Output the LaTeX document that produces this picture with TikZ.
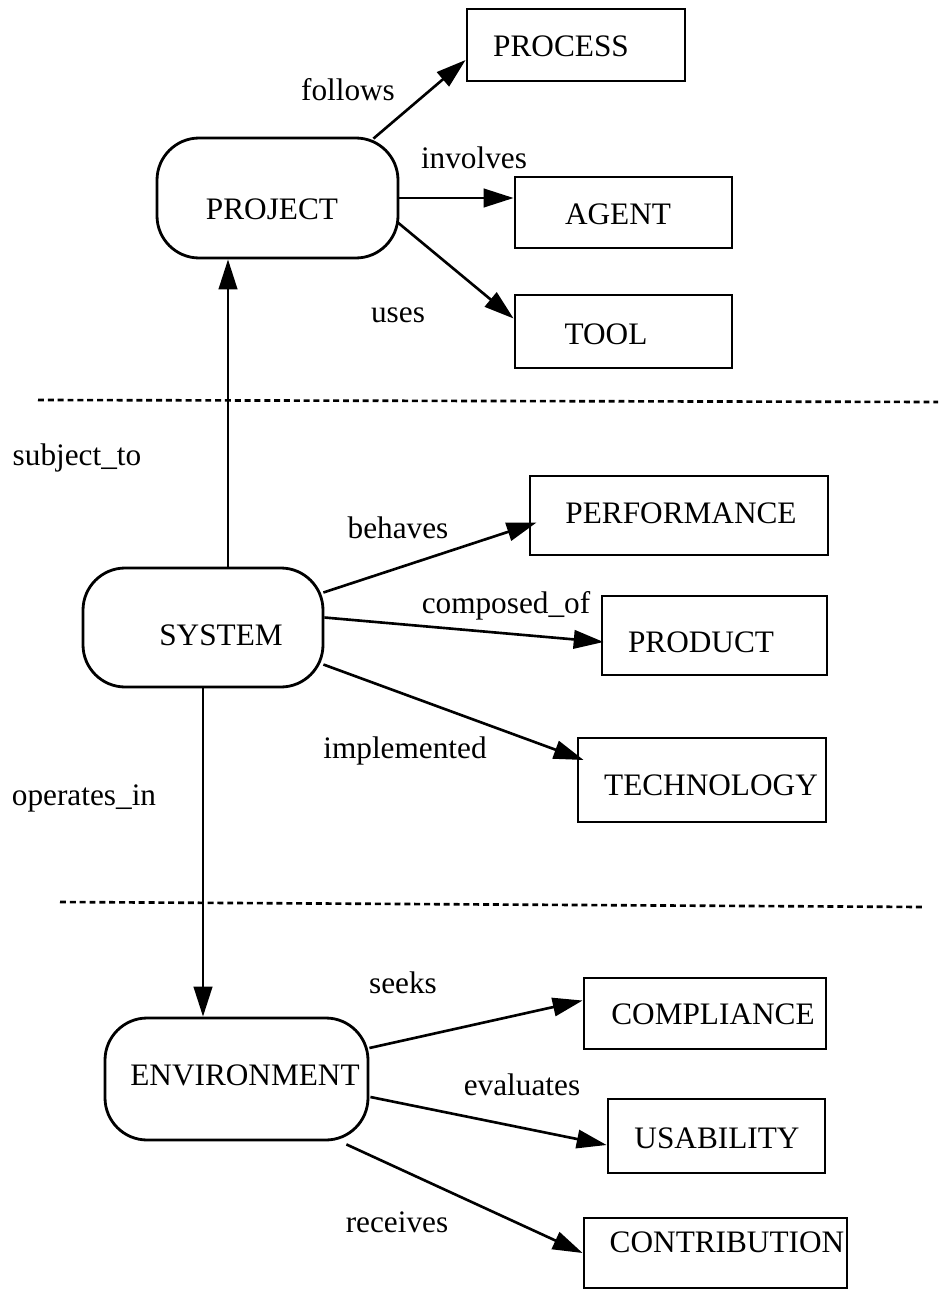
\documentclass[tikz,border=0pt]{standalone}
\usepackage{fontspec}
\setmainfont{Liberation Serif}
\usetikzlibrary{arrows.meta,calc}
\begin{document}
\begin{tikzpicture}[x=0.02cm,y=-0.02cm,
  every node/.style={font=\fontsize{17.8}{21}\selectfont},
  bx/.style 2 args={draw,line width=1.6pt,rectangle,inner sep=0pt,
     minimum width=#1*0.02cm,minimum height=#2*0.02cm},
  rbx/.style 2 args={bx={#1}{#2},rounded corners=24pt},
  txt/.style={anchor=base,inner sep=0pt},
  arr/.style={line width=1.5pt,-{Triangle[length=17pt,width=10.5pt]}},
  sep/.style={line width=1.5pt,dash pattern=on 3.4pt off 2.2pt}]
\useasboundingbox (0,0) rectangle (938,1291);
% boxes
\node[rbx={241}{120}] (proj) at (277.5,198) {};
\node[bx={218}{72}] (proc) at (576,45) {};
\node[bx={217}{71}] (agent) at (623.5,212.5) {};
\node[bx={217}{73}] (tool) at (623.5,331.5) {};
\node[rbx={240}{119}] (sys) at (203,627.5) {};
\node[bx={298}{79}] (perf) at (679,515.5) {};
\node[bx={225}{79}] (prod) at (714.5,635.5) {};
\node[bx={248}{84}] (tech) at (702,780) {};
\node[rbx={263}{122}] (env) at (236.5,1079) {};
\node[bx={242}{71}] (comp) at (705,1013.5) {};
\node[bx={217}{74}] (usab) at (716.5,1136) {};
\node[bx={263}{70}] (contr) at (715.5,1253) {};
% box texts
\node[txt] (tproj) at (272,219) {PROJECT};
\node[txt] (tproc) at (561,57) {PROCESS};
\node[txt] (tagent) at (618,224) {AGENT};
\node[txt] (ttool) at (606,344) {TOOL};
\node[txt] (tsys) at (221,645) {SYSTEM};
\node[txt] (tperf) at (681,523) {PERFORMANCE};
\node[txt] (tprod) at (701,652) {PRODUCT};
\node[txt] (ttech) at (711,795) {TECHNOLOGY};
\node[txt] (tenv) at (245,1085) {ENVIRONMENT};
\node[txt] (tcomp) at (713,1024) {COMPLIANCE};
\node[txt] (tusab) at (717,1148) {USABILITY};
\node[txt] (tcontr) at (727,1252) {CONTRIBUTION};
% separators
\draw[sep] (38,400) -- (938,402);
\draw[sep] (60,902) -- (923,907);
% connectors
\draw[arr] ($(proj.north east)+(-26,2)$) -- ($(proc.west)+(0,15)$);
\draw[arr] (proj.east) -- (proj.east -| agent.west);
\draw[arr] ($(proj.east)+(-1,25)$) -- ($(tool.west)+(0,-13)$);
\draw[arr] ($(sys.north)+(25,0)$) coordinate (s1) -- (s1 |- proj.south);
\draw[arr] (sys.south) -- (sys.south |- env.north);
\draw[arr] ($(sys.east)+(-1,-35)$) -- ($(perf.west)+(8,7)$);
\draw[arr] ($(sys.east)+(0,-10)$) -- ($(prod.west)+(3,6.5)$);
\draw[arr] ($(sys.east)+(-1,37)$) -- ($(tech.west)+(7,-20)$);
\draw[arr] ($(env.east)+(0,-31)$) -- ($(comp.west)+(0,-13)$);
\draw[arr] ($(env.east)+(1,18)$) -- ($(usab.west)+(0,9)$);
\draw[arr] ($(env.south east)+(-23,3)$) -- (contr.west);
% labels
\node[txt] (lfollows) at (348,101) {follows};
\node[txt] (linvolves) at (474,168) {involves};
\node[txt] (luses) at (398,322) {uses};
\node[txt] (lsubj) at (77,465) {subject\_to};
\node[txt] (lbeh) at (398,538) {behaves};
\node[txt] (lcomp) at (506,613) {composed\_of};
\node[txt] (limpl) at (405,758) {implemented};
\node[txt] (lops) at (84,805) {operates\_in};
\node[txt] (lseeks) at (403,993) {seeks};
\node[txt] (leval) at (522,1095) {evaluates};
\node[txt] (lrec) at (397,1232) {receives};
\end{tikzpicture}
\end{document}
